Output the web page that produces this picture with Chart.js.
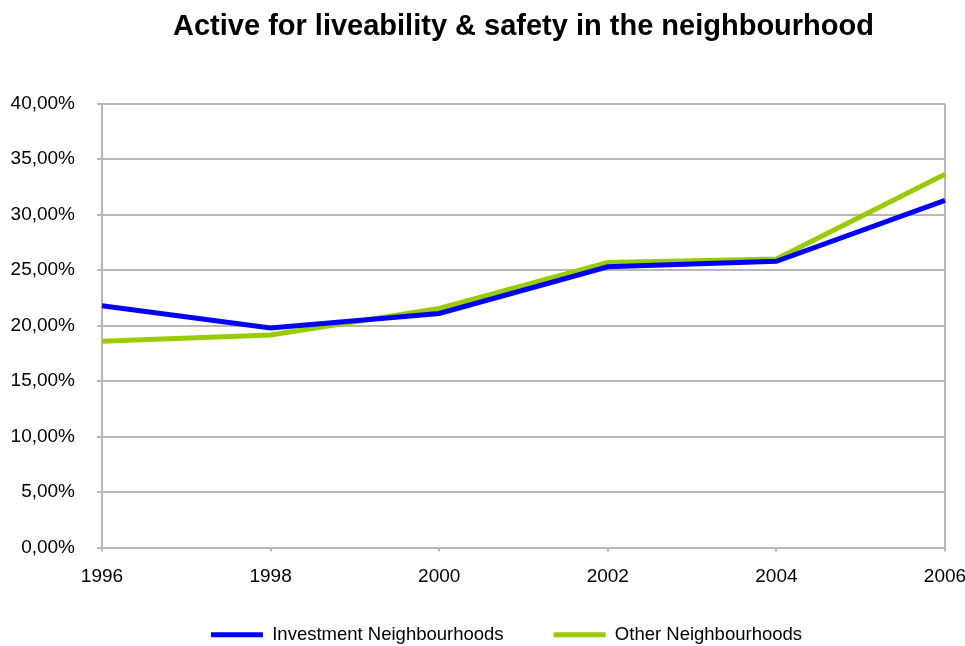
<!DOCTYPE html>
<html>
<head>
<meta charset="utf-8">
<script src="https://cdn.jsdelivr.net/npm/chart.js@4.4.0/dist/chart.umd.min.js"></script>
<style>
  html, body { margin: 0; padding: 0; background: #fff; }
  #wrap { width: 965px; height: 646px; }
</style>
</head>
<body>
<div id="wrap"><canvas id="activeChart" width="965" height="646"></canvas></div>
<script>
const years = ["1996", "1998", "2000", "2002", "2004", "2006"];
const investmentValues = [21.8, 19.8, 21.1, 25.3, 25.8, 31.3];
const otherValues = [18.6, 19.15, 21.55, 25.7, 26.0, 33.65];
const yTicks = [0, 5, 10, 15, 20, 25, 30, 35, 40];

const gridGray = "#b8b8b8";
const fontFamily = "'Liberation Sans', Arial, sans-serif";

// nudge the legend left of the plot centre and up a little, as in the original
const legendShift = {
    id: 'legendShift',
    afterLayout(chart) {
        const lg = chart.legend;
        lg.left -= 17;
        lg.right -= 17;
        lg.top -= 13;
        lg.bottom -= 13;
    }
};

document.addEventListener("DOMContentLoaded", function () {
    const ctx = document.getElementById("activeChart");

    new Chart(ctx, {
        type: 'line',
        data: {
            labels: years,
            datasets: [
                {
                    label: "Investment Neighbourhoods",
                    data: investmentValues,
                    borderColor: "#0000ff",
                    backgroundColor: "#0000ff",
                    borderWidth: 5,
                    pointRadius: 0,
                    tension: 0
                },
                {
                    label: "Other Neighbourhoods",
                    data: otherValues,
                    borderColor: "#99cc00",
                    backgroundColor: "#99cc00",
                    borderWidth: 5,
                    pointRadius: 0,
                    tension: 0
                }
            ]
        },
        plugins: [legendShift],
        options: {
            responsive: false,
            animation: false,
            layout: { padding: { left: 0, right: 0, top: 0, bottom: -21 } },
            plugins: {
                title: {
                    display: true,
                    text: "Active for liveability & safety in the neighbourhood",
                    fullSize: false,
                    color: "#000",
                    font: { family: fontFamily, size: 29, weight: 'bold' },
                    padding: { top: 10, bottom: 59 }
                },
                legend: {
                    position: 'bottom',
                    fullSize: false,
                    labels: {
                        color: "#000",
                        font: { family: fontFamily, size: 18.5 },
                        boxWidth: 52,
                        boxHeight: 5,
                        padding: 50,
                        generateLabels: chart => Chart.defaults.plugins.legend.labels.generateLabels(chart)
                            .map(item => Object.assign(item, { lineWidth: 0 }))
                    }
                },
                tooltip: { enabled: false }
            },
            scales: {
                x: {
                    offset: false,
                    border: { color: gridGray, width: 2 },
                    grid: {
                        color: c => c.index === years.length - 1 ? gridGray : 'rgba(0,0,0,0)',
                        lineWidth: 2,
                        tickColor: gridGray,
                        tickLength: 4
                    },
                    ticks: {
                        color: "#000",
                        font: { family: fontFamily, size: 19 },
                        padding: 14,
                        maxRotation: 0
                    },
                    afterFit: scale => {
                        scale.height = 41;
                        scale.paddingRight = 20;
                    }
                },
                y: {
                    min: 0,
                    max: 40,
                    afterBuildTicks: scale => { scale.ticks = yTicks.map(v => ({ value: v })); },
                    border: { color: gridGray, width: 2 },
                    grid: { color: gridGray, lineWidth: 2, tickLength: 5 },
                    ticks: {
                        color: "#000",
                        font: { family: fontFamily, size: 19 },
                        padding: 22,
                        callback: v => v.toFixed(2).replace('.', ',') + '%'
                    },
                    afterFit: scale => { scale.width = 102; }
                }
            }
        }
    });
});
</script>
</body>
</html>
